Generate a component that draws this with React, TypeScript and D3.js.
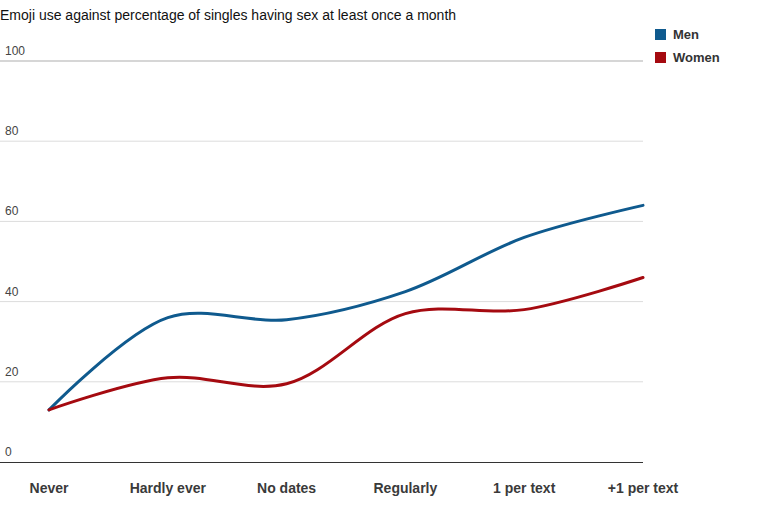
import React from 'react';
import * as d3 from 'd3';

const categories = ['Never', 'Hardly ever', 'No dates', 'Regularly', '1 per text', '+1 per text'];
const menValues = [13, 36, 35.5, 42.5, 56, 64];
const womenValues = [13, 21, 19.5, 37, 38, 46];
const yTicks = [0, 20, 40, 60, 80, 100];

const series = [
    { name: 'Men', values: menValues, colour: '#0f5a8e' },
    { name: 'Women', values: womenValues, colour: '#a50a10' },
];

const width = 759;
const height = 505;
const font = '"Liberation Sans", Arial, sans-serif';

const App = () => {
    const x = d3.scalePoint<string>()
        .domain(categories)
        .range([49, 643]);

    const y = d3.scaleLinear()
        .domain([0, 100])
        .range([462, 61]);

    const line = d3.line<number>()
        .x((_, i) => x(categories[i]) as number)
        .y(d => y(d))
        .curve(d3.curveCatmullRom.alpha(0.5));

    return (
        <svg width={width} height={height} style={{ position: 'absolute', left: 0, top: 0, fontFamily: font }}>
            <text x={0} y={20} fontSize={14} fill="#111">
                Emoji use against percentage of singles having sex at least once a month
            </text>

            {yTicks.map(t => (
                <g key={t}>
                    {t > 0 && (
                        <line x1={0} x2={643} y1={y(t)} y2={y(t)}
                            stroke={t === 100 ? '#c8c8c8' : '#dcdcdc'} strokeWidth={t === 100 ? 1.5 : 1} />
                    )}
                    <text x={5} y={y(t) - 6} fontSize={12} fill="#444">{t}</text>
                </g>
            ))}

            <line x1={0} x2={643} y1={y(0) + 0.5} y2={y(0) + 0.5} stroke="#333" strokeWidth={1} />

            {series.map(s => (
                <path key={s.name} d={line(s.values) || ''} fill="none"
                    stroke={s.colour} strokeWidth={3} strokeLinecap="round" strokeLinejoin="round" />
            ))}

            {categories.map(c => (
                <text key={c} x={x(c)} y={493} fontSize={14} fontWeight="bold" fill="#3a3a3a" textAnchor="middle">
                    {c}
                </text>
            ))}

            {series.map((s, i) => (
                <g key={s.name} transform={`translate(655,${29 + i * 23})`}>
                    <rect x={0} y={0} width={11} height={11} fill={s.colour} />
                    <text x={18} y={10} fontSize={13} fontWeight="bold" fill="#333">{s.name}</text>
                </g>
            ))}
        </svg>
    );
};

export default App;
